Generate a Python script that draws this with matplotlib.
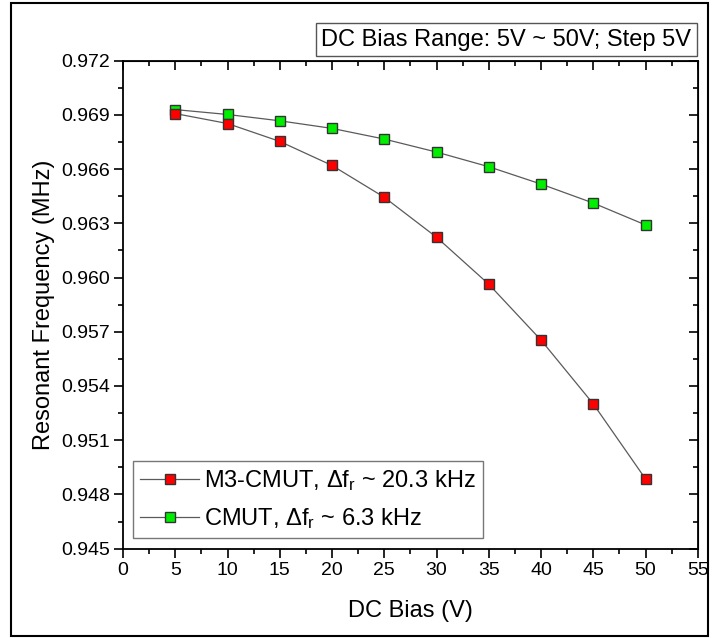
import matplotlib
matplotlib.use("Agg")
import matplotlib.pyplot as plt
from matplotlib.patches import Rectangle
from matplotlib.ticker import MultipleLocator, FormatStrFormatter

plt.rcParams['font.family'] = ['Liberation Sans', 'DejaVu Sans']
plt.rcParams['mathtext.fontset'] = 'custom'
plt.rcParams['mathtext.rm'] = 'Liberation Sans'
plt.rcParams['mathtext.it'] = 'Liberation Sans'

# DC bias voltages (V)
bias = [5, 10, 15, 20, 25, 30, 35, 40, 45, 50]
# resonant frequency (MHz)
m3_cmut = [0.96907, 0.96852, 0.96753, 0.96620, 0.96444,
           0.96223, 0.95963, 0.95654, 0.95301, 0.94886]
cmut = [0.96929, 0.96902, 0.96867, 0.96825, 0.96766,
        0.96694, 0.96613, 0.96517, 0.96412, 0.96291]

fig = plt.figure(figsize=(7.12, 6.38), dpi=100)
ax = fig.add_axes([0.1728, 0.140, 0.8072, 0.765])

line_col = '#5a5a5a'
# red series sits on top of the green one where they overlap
ax.plot(bias, m3_cmut, '-s', color=line_col, lw=0.9, ms=7.5,
        mfc='#ff0000', mec='#333333', mew=1.0, zorder=3,
        label=r'M3-CMUT, $\Delta$f$_\mathrm{r}$ ~ 20.3 kHz')
ax.plot(bias, cmut, '-s', color=line_col, lw=0.9, ms=7.5,
        mfc='#00ee00', mec='#333333', mew=1.0, zorder=2,
        label=r'CMUT, $\Delta$f$_\mathrm{r}$ ~ 6.3 kHz')

ax.set_xlim(0, 55)
ax.set_ylim(0.945, 0.972)
ax.xaxis.set_major_locator(MultipleLocator(5))
ax.xaxis.set_minor_locator(MultipleLocator(2.5))
ax.yaxis.set_major_locator(MultipleLocator(0.003))
ax.yaxis.set_minor_locator(MultipleLocator(0.0015))
ax.yaxis.set_major_formatter(FormatStrFormatter('%.3f'))

ax.tick_params(which='both', direction='out', top=False, right=False,
               labelsize=14, width=1.2)
ax.tick_params(which='major', length=6.5, pad=3)
ax.tick_params(which='minor', length=3.5)
for s in ax.spines.values():
    s.set_linewidth(1.3)

# inward ticks on top and right, no labels
sec_x = ax.secondary_xaxis('top')
sec_x.xaxis.set_major_locator(MultipleLocator(5))
sec_x.xaxis.set_minor_locator(MultipleLocator(2.5))
sec_x.tick_params(which='both', direction='in', labeltop=False, width=1.2)
sec_x.tick_params(which='major', length=6.5)
sec_x.tick_params(which='minor', length=3.5)
sec_y = ax.secondary_yaxis('right')
sec_y.yaxis.set_major_locator(MultipleLocator(0.003))
sec_y.yaxis.set_minor_locator(MultipleLocator(0.0015))
sec_y.tick_params(which='both', direction='in', labelright=False, width=1.2)
sec_y.tick_params(which='major', length=6.5)
sec_y.tick_params(which='minor', length=3.5)

ax.set_xlabel('DC Bias (V)', fontsize=17, labelpad=15)
ax.set_ylabel('Resonant Frequency (MHz)', fontsize=17, labelpad=4)

leg = ax.legend(loc='lower left', fontsize=17, frameon=True, fancybox=False,
                edgecolor='#555555', handlelength=2.5, handletextpad=0.2,
                borderpad=0.3, borderaxespad=0, labelspacing=0.55,
                bbox_to_anchor=(0.0175, 0.022))
leg.get_frame().set_linewidth(1.0)
leg.set_zorder(5)

fig.text(0.971, 0.938, 'DC Bias Range: 5V ~ 50V; Step 5V', fontsize=17,
         ha='right', va='center',
         bbox=dict(boxstyle='square,pad=0.22', fc='white', ec='#555555', lw=1.0))

fig.patches.append(Rectangle((0.015, 0.003), 0.98, 0.992, transform=fig.transFigure,
                             fill=False, ec='black', lw=1.5))

fig.savefig('out.png', dpi=100)
